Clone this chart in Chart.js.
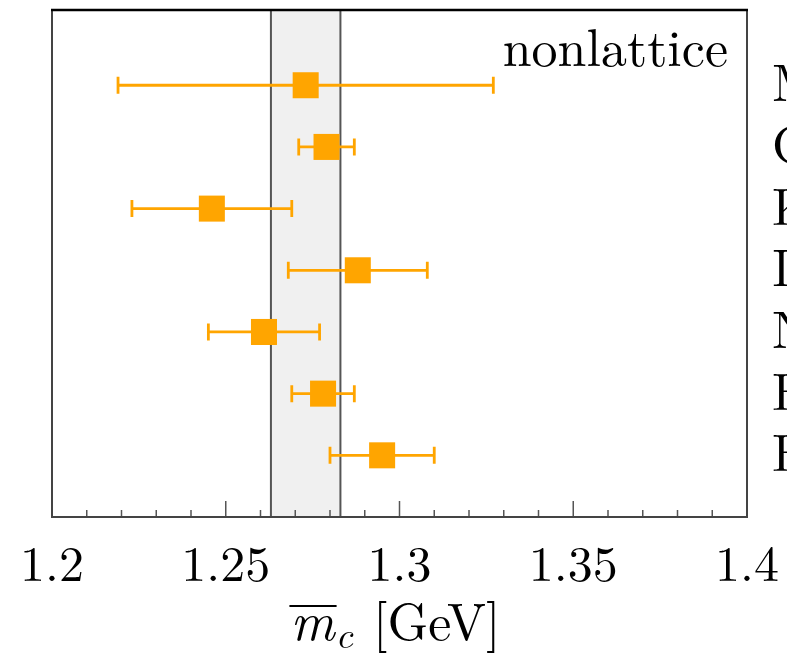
<!DOCTYPE html>
<html><head><meta charset="utf-8">
<script src="https://cdn.jsdelivr.net/npm/chart.js@4.4.1/dist/chart.umd.min.js"></script>
<style>html,body{margin:0;padding:0;background:#fff;overflow:hidden}canvas{display:block}</style>
</head><body>
<canvas id="c" width="787" height="656"></canvas>
<script>
const categories = ['MMHT', 'Chetyrkin 09', 'Kiyo 15', 'Dehnadi 15', 'Narison 12', 'HPQCD 14', 'Hoang 18'];
const values   = [1.273, 1.279, 1.246, 1.288, 1.261, 1.278, 1.295];
const errMinus = [0.054, 0.008, 0.023, 0.020, 0.016, 0.009, 0.015];
const errPlus  = [0.054, 0.008, 0.023, 0.020, 0.016, 0.009, 0.015];
const bandRange = [1.263, 1.283];
const majorTicks = [1.2, 1.25, 1.3, 1.35, 1.4];
const tickLabels = ['1.2', '1.25', '1.3', '1.35', '1.4'];
const panelLabel = 'nonlattice';
const axisTitle = { sym: 'm', sub: 'c', unit: '[GeV]' };

const SERIF = '"Latin Modern Roman", "Liberation Serif", serif';
const ORANGE = '#ffa500';

const decor = {
  id: 'decor',
  beforeDatasetsDraw(chart) {
    const { ctx, chartArea: a, scales: { x, y } } = chart;
    ctx.save();
    const x0 = x.getPixelForValue(bandRange[0]), x1 = x.getPixelForValue(bandRange[1]);
    ctx.fillStyle = '#f0f0f0';
    ctx.fillRect(x0, a.top, x1 - x0, a.bottom - a.top);
    ctx.strokeStyle = '#555'; ctx.lineWidth = 2;
    ctx.beginPath();
    ctx.moveTo(x0, a.top); ctx.lineTo(x0, a.bottom);
    ctx.moveTo(x1, a.top); ctx.lineTo(x1, a.bottom);
    ctx.stroke();
    ctx.strokeStyle = ORANGE; ctx.lineWidth = 2.8;
    values.forEach((v, i) => {
      const py = y.getPixelForValue(i + 1);
      const l = x.getPixelForValue(v - errMinus[i]), r = x.getPixelForValue(v + errPlus[i]);
      ctx.beginPath();
      ctx.moveTo(l, py); ctx.lineTo(r, py);
      ctx.moveTo(l, py - 8.5); ctx.lineTo(l, py + 8.5);
      ctx.moveTo(r, py - 8.5); ctx.lineTo(r, py + 8.5);
      ctx.stroke();
    });
    ctx.restore();
  },
  afterDraw(chart) {
    const { ctx, chartArea: a, scales: { x } } = chart;
    ctx.save();
    // inward ticks
    ctx.strokeStyle = '#555'; ctx.lineWidth = 1.5;
    x.ticks.forEach(t => {
      const px = x.getPixelForValue(t.value);
      const major = majorTicks.some(m => Math.abs(m - t.value) < 1e-6);
      const len = major ? 16 : 7;
      ctx.beginPath(); ctx.moveTo(px, a.bottom); ctx.lineTo(px, a.bottom - len); ctx.stroke();
    });
    // frame
    ctx.strokeStyle = '#444'; ctx.lineWidth = 2;
    ctx.beginPath();
    ctx.moveTo(a.left, a.top); ctx.lineTo(a.left, a.bottom); ctx.lineTo(a.right, a.bottom); ctx.lineTo(a.right, a.top);
    ctx.stroke();
    ctx.strokeStyle = '#000'; ctx.lineWidth = 2.5;
    ctx.beginPath(); ctx.moveTo(a.left - 1, a.top); ctx.lineTo(a.right + 1, a.top); ctx.stroke();
    // panel label
    ctx.fillStyle = '#000';
    ctx.font = `52px ${SERIF}`;
    ctx.textAlign = 'right'; ctx.textBaseline = 'alphabetic';
    ctx.fillText(panelLabel, a.right - 19, a.top + 56);
    // axis title
    const cx = (a.left + a.right) / 2;
    ctx.textAlign = 'left';
    ctx.font = `italic 54px ${SERIF}`;
    const wm = ctx.measureText(axisTitle.sym).width;
    ctx.font = `italic 38px ${SERIF}`;
    const wc = ctx.measureText(axisTitle.sub).width;
    ctx.font = `52px ${SERIF}`;
    const wu = ctx.measureText(axisTitle.unit).width;
    const gap = 20;
    const total = wm + 1 + wc + gap + wu;
    let sx = cx - total / 2 - 4;
    const base = 640;
    ctx.font = `italic 54px ${SERIF}`;
    ctx.fillText(axisTitle.sym, sx, base);
    ctx.lineWidth = 2; ctx.strokeStyle = '#000';
    ctx.beginPath(); ctx.moveTo(sx - 1, 606); ctx.lineTo(sx + wm + 2, 606); ctx.stroke();
    sx += wm + 1;
    ctx.font = `italic 38px ${SERIF}`;
    ctx.fillText(axisTitle.sub, sx, base + 8);
    sx += wc + gap;
    ctx.font = `52px ${SERIF}`;
    ctx.fillText(axisTitle.unit, sx, base);
    ctx.restore();
  }
};

new Chart(document.getElementById('c'), {
  type: 'scatter',
  data: {
    datasets: [{
      data: values.map((v, i) => ({ x: v, y: i + 1 })),
      pointStyle: 'rect',
      pointRadius: 18.4,
      pointHoverRadius: 18.4,
      backgroundColor: ORANGE,
      borderWidth: 0
    }]
  },
  options: {
    responsive: false,
    animation: false,
    devicePixelRatio: 1,
    layout: { autoPadding: false, padding: { left: 52, top: 10, right: 0, bottom: 0 } },
    plugins: { legend: { display: false }, tooltip: { enabled: false } },
    scales: {
      x: {
        type: 'linear', min: 1.2, max: 1.4,
        afterFit: s => { s.height = 139; s.paddingLeft = 0; s.paddingRight = 0; s.paddingTop = 0; s.paddingBottom = 0; },
        grid: { display: false, drawTicks: false },
        border: { display: false },
        ticks: {
          stepSize: 0.01, autoSkip: false, maxRotation: 0, padding: 19,
          color: '#000', font: { family: SERIF, size: 50 },
          callback: v => {
            const i = majorTicks.findIndex(m => Math.abs(m - v) < 1e-6);
            return i >= 0 ? tickLabels[i] : '';
          }
        }
      },
      y: {
        type: 'linear', position: 'right', reverse: true, min: -0.22, max: 8.0,
        afterFit: s => { s.width = 40; s.paddingLeft = 0; s.paddingRight = 0; s.paddingTop = 0; s.paddingBottom = 0; },
        afterBuildTicks: s => { s.ticks = categories.map((_, i) => ({ value: i + 1 })); },
        grid: { display: false, drawTicks: false },
        border: { display: false },
        ticks: {
          padding: 25, autoSkip: false,
          color: '#000', font: { family: SERIF, size: 52 },
          callback: v => categories[v - 1] || ''
        }
      }
    }
  },
  plugins: [decor]
});
</script>
</body></html>
